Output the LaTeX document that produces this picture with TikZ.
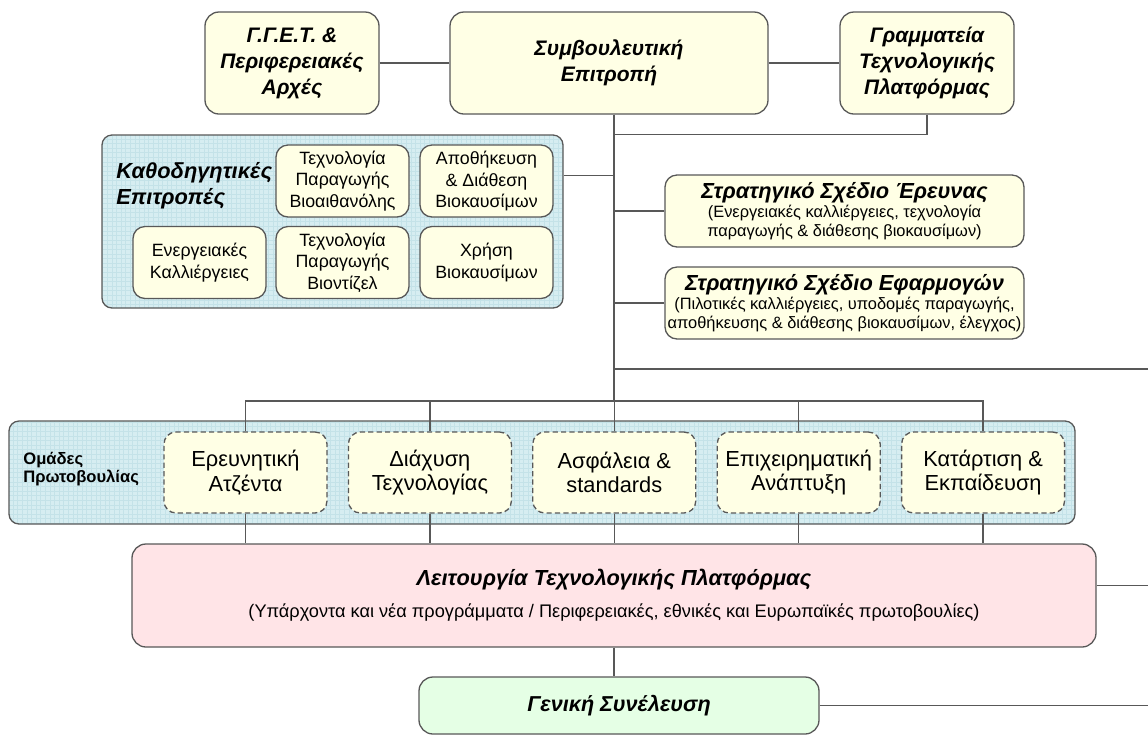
\documentclass[tikz,border=0pt]{standalone}
\usepackage{fontspec}
\setmainfont{Liberation Sans}
\definecolor{cream}{RGB}{255,255,229}
\definecolor{panelteal}{RGB}{214,237,241}
\definecolor{gridteal}{RGB}{196,226,232}
\definecolor{litpink}{RGB}{255,228,231}
\definecolor{genmint}{RGB}{229,255,229}
\definecolor{linegray}{RGB}{88,88,88}

\begin{document}
\begin{tikzpicture}[x=0.5pt,y=-0.5pt,
  wire/.style={draw=linegray,line width=0.65pt},
  topbox/.style={draw=linegray,line width=0.65pt,fill=cream,rounded corners=7pt,inner sep=0pt,align=center,
    minimum height=51pt,font=\fontsize{10.5}{13}\selectfont\bfseries\itshape},
  kbox/.style={draw=linegray,line width=0.65pt,fill=cream,rounded corners=6pt,inner sep=0pt,align=center,
    minimum width=66.5pt,minimum height=36pt,font=\fontsize{8.9}{10.8}\selectfont},
  planbox/.style={draw=linegray,line width=0.65pt,fill=cream,rounded corners=6pt,inner sep=0pt,align=center,
    minimum width=179.5pt,minimum height=36pt,font=\fontsize{8.2}{9.2}\selectfont},
  grp/.style={draw=linegray,line width=0.65pt,dash pattern=on 2.6pt off 1.6pt,fill=cream,rounded corners=6pt,
    inner sep=0pt,align=center,minimum width=81.5pt,minimum height=40.5pt,font=\fontsize{10.9}{12.2}\selectfont},
  panel/.style={draw=linegray,line width=0.65pt,fill=panelteal,rounded corners=5pt,inner sep=0pt,
    path picture={\draw[gridteal,line width=0.2pt,step=2.3pt] (path picture bounding box.south west) grid (path picture bounding box.north east);}},
  bigbox/.style={draw=linegray,line width=0.65pt,rounded corners=7pt,inner sep=0pt,align=center}]
\useasboundingbox (0,0) rectangle (1148,736);

\node[topbox,minimum width=87pt] (gget) at (292,63) {Γ.Γ.Ε.Τ. \&\\Περιφερειακές\\Αρχές};
\node[topbox,minimum width=159pt] (symv) at (609,63) {Συμβουλευτική\\Επιτροπή};
\node[topbox,minimum width=87pt] (gram) at (927,63) {Γραμματεία\\Τεχνολογικής\\Πλατφόρμας};

\node[panel,minimum width=230.5pt,minimum height=86.5pt] (kath) at (332.5,221.5) {};
\node[anchor=west,align=left,inner sep=0pt,font=\fontsize{10.9}{12.8}\selectfont\bfseries\itshape] (kathlabel) at (116,186) {Καθοδηγητικές\\Επιτροπές};
\node[kbox] (k1) at (342.5,181) {Τεχνολογία\\Παραγωγής\\Βιοαιθανόλης};
\node[kbox] (k2) at (486.5,181) {Αποθήκευση\\\& Διάθεση\\Βιοκαυσίμων};
\node[kbox] (k3) at (199.5,262.5) {Ενεργειακές\\Καλλιέργειες};
\node[kbox] (k4) at (342.5,262.5) {Τεχνολογία\\Παραγωγής\\Βιοντίζελ};
\node[kbox] (k5) at (486.5,262.5) {Χρήση\\Βιοκαυσίμων};

\node[planbox] (ereun) at (844.5,211) {{\fontsize{10.9}{12}\selectfont\bfseries\itshape Στρατηγικό Σχέδιο Έρευνας}\\[0.5pt]
  (Ενεργειακές καλλιέργειες, τεχνολογία\\παραγωγής \& διάθεσης βιοκαυσίμων)};
\node[planbox] (efarm) at (844.5,303) {{\fontsize{10.9}{12}\selectfont\bfseries\itshape Στρατηγικό Σχέδιο Εφαρμογών}\\[0.5pt]
  (Πιλοτικές καλλιέργειες, υποδομές παραγωγής,\\αποθήκευσης \& διάθεσης βιοκαυσίμων, έλεγχος)};

\node[panel,minimum width=533pt,minimum height=51.5pt] (omades) at (542,472.5) {};
\node[anchor=west,align=left,inner sep=0pt,font=\fontsize{8.3}{8.8}\selectfont\bfseries] (omlabel) at (23,469) {Ομάδες\\Πρωτοβουλίας};
\foreach \t [count=\i] in {{Ερευνητική\\Ατζέντα},{Διάχυση\\Τεχνολογίας},{Ασφάλεια \&\\standards},{Επιχειρηματική\\Ανάπτυξη},{Κατάρτιση \&\\Εκπαίδευση}}
  \node[grp] (g\i) at ({245.5+184.4*(\i-1)},472.5) {\t};

\node[bigbox,fill=litpink,minimum width=482pt,minimum height=51.5pt,font=\fontsize{9.1}{10.5}\selectfont] (lit) at (614,595.5)
  {{\fontsize{10.9}{12}\selectfont\bfseries\itshape Λειτουργία Τεχνολογικής Πλατφόρμας}\\[5.5pt]
   (Υπάρχοντα και νέα προγράμματα / Περιφερειακές, εθνικές και Ευρωπαϊκές πρωτοβουλίες)};
\node[bigbox,fill=genmint,minimum width=200pt,minimum height=28.5pt,font=\fontsize{10.8}{12}\selectfont\bfseries\itshape] (gen) at (619,705.5) {Γενική Συνέλευση};

\coordinate (bus) at (614,401);
\coordinate (edge) at (1148,369);
\draw[wire] (gget) -- (symv);
\draw[wire] (symv) -- (gram);
\draw[wire] (gram.south) |- (kath.north -| lit.north);
\draw[wire] (symv.south -| lit.north) -- (bus);
\draw[wire] ([yshift=23pt]kath.east) -- ([yshift=23pt]kath.east -| lit.north);
\draw[wire] (ereun.west) -- (ereun.west -| lit.north);
\draw[wire] (efarm.west) -- (efarm.west -| lit.north);
\draw[wire] (edge -| lit.north) -- (edge);
\draw[wire] (g1.north) |- (bus) -| (g5.north);
\foreach \i in {2,3,4}
  \draw[wire] (g\i.north) -- (g\i.north |- bus);
\foreach \i in {1,...,5}
  \draw[wire] (g\i.south) -- (g\i.south |- lit.north);
\draw[wire] (lit.south) -- (lit.south |- gen.north);
\draw[wire] ([yshift=5pt]lit.east) -- ([yshift=5pt]lit.east -| edge);
\draw[wire] (gen.east) -- (gen.east -| edge);
\end{tikzpicture}
\end{document}
